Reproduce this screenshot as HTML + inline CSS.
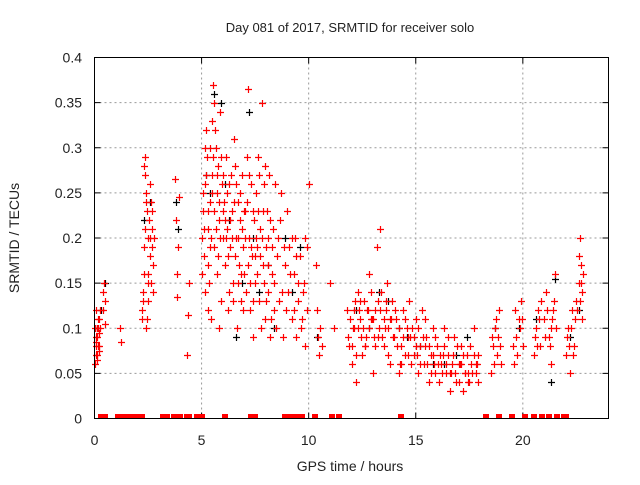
<!DOCTYPE html>
<html><head><meta charset="utf-8"><style>
body{margin:0;background:#fff}
svg text{font-family:"Liberation Sans",sans-serif;fill:#222}
</style></head><body>
<svg id="chart" width="640" height="480" xmlns="http://www.w3.org/2000/svg">
<rect width="640" height="480" fill="#fff"/>
<text x="350" y="32" font-size="13" text-anchor="middle">Day 081 of 2017, SRMTID for receiver solo</text>
<text x="350" y="471" font-size="14" text-anchor="middle">GPS time / hours</text>
<text transform="translate(19,238) rotate(-90)" font-size="14" text-anchor="middle">SRMTID / TECUs</text>
<g id="grid"></g>
<g id="ticks"></g>
<g id="black"></g>
<g id="red"></g>
<g id="zeros"></g>
<rect x="94.5" y="57.5" width="514" height="361" fill="none" stroke="#000" stroke-width="1"/>
</svg>
<script>
const xTicks=[0,5,10,15,20];
const yTicks=[0,0.05,0.1,0.15,0.2,0.25,0.3,0.35,0.4];
const yTickLabels=["0","0.05","0.1","0.15","0.2","0.25","0.3","0.35","0.4"];
const redTimes=[0.05,0.08,0.1,0.12,0.15,0.18,0.2,0.25,0.07,0.22,0.4,0.45,0.5,0.42,0.48,1.2,1.25,
2.2,2.25,2.3,2.3,2.35,2.4,2.4,2.45,2.5,2.5,2.55,2.6,2.6,2.65,2.7,2.7,2.75,2.35,2.45,
3.75,3.8,3.85,3.9,3.95,3.85,4.3,4.35,4.4,
5.0,5.05,5.1,5.15,5.2,5.25,5.3,5.35,5.4,5.45,5.5,5.5,5.55,5.6,5.6,5.65,5.7,5.7,5.75,5.8,5.85,5.9,5.95,6.0,5.3,5.15,5.4,5.8,
6.05,6.1,6.15,6.2,6.25,6.3,6.35,6.4,6.45,6.5,6.55,6.6,6.65,6.7,6.75,6.8,6.85,6.9,6.95,
7.0,7.05,7.1,7.15,7.2,7.25,7.3,7.35,7.4,7.45,7.5,7.55,7.6,7.65,7.7,7.75,7.8,7.85,7.9,7.95,
8.0,8.05,8.1,8.15,8.2,8.3,8.35,8.4,8.5,8.6,8.7,8.8,8.9,
9.0,9.05,9.1,9.2,9.3,9.35,9.4,9.5,9.6,9.7,9.8,9.9,10.0,9.85,
10.35,10.4,10.45,10.5,10.55,10.6,
11.0,11.2,11.8,11.9,12.0,12.1,12.2,12.3,12.4,12.5,12.6,12.7,12.8,12.9,13.0,13.1,13.2,13.3,13.4,13.5,13.6,13.7,13.8,13.9,14.0,
12.15,12.45,12.75,13.05,13.35,13.65,
14.1,14.2,14.3,14.4,14.5,14.6,14.7,14.8,14.9,15.0,15.1,15.2,15.3,15.4,15.5,15.6,15.7,15.8,15.9,
16.0,16.1,16.2,16.3,16.4,16.5,16.6,16.7,16.8,16.9,17.0,17.1,17.2,17.3,17.4,17.5,17.6,17.7,17.8,17.9,
18.5,18.6,18.7,18.8,18.9,19.0,19.6,19.7,19.8,19.9,20.0,
20.5,20.6,20.7,20.8,21.0,21.1,21.2,21.3,21.4,21.5,21.3,
22.0,22.1,22.2,22.3,22.4,22.5,22.6,22.65,22.7,22.8,22.75,
12.05,12.35,12.65,12.95,13.25,13.55,13.85,14.25,14.65,15.05,15.45,15.85,16.25,16.65,17.05,17.45,17.85];
const redValues=[.07,.09,.1,.065,.08,.11,.095,.12,.085,.075,.14,.15,.13,.12,.105,.1,.085,
.12,.14,.16,.28,.27,.1,.24,.23,.2,.13,.22,.18,.26,.15,.19,.23,.17,.29,.11,
.265,.22,.16,.19,.245,.135,.07,.115,.15,
.2,.23,.18,.26,.32,.29,.21,.15,.24,.11,.27,.33,.37,.35,.19,.3,.25,.16,.28,.22,.34,.13,.26,.2,.12,.14,.3,.1,
.24,.17,.29,.21,.12,.26,.19,.23,.15,.31,.28,.2,.1,.24,.17,.22,.13,.27,.19,
.16,.23,.29,.365,.2,.12,.26,.18,.09,.22,.15,.25,.19,.29,.13,.21,.35,.17,.26,.11,
.19,.23,.14,.27,.09,.16,.21,.12,.18,.13,.25,.09,.17,
.23,.14,.19,.11,.16,.2,.09,.13,.18,.11,.15,.19,.26,.08,
.17,.12,.09,.07,.1,.08,
.15,.1,.12,.08,.06,.1,.04,.14,.11,.07,.13,.09,.16,.11,.05,.12,.19,.1,.14,.08,.12,.1,.06,.13,.09,
.13,.09,.12,.09,.21,.15,
.11,.05,.08,.12,.07,.1,.13,.06,.09,.11,.05,.08,.12,.06,.09,.04,.07,.1,.05,
.08,.04,.06,.1,.05,.07,.03,.06,.09,.04,.06,.08,.03,.05,.07,.04,.06,.1,.05,.07,
.05,.08,.1,.07,.12,.06,.06,.09,.11,.13,.08,
.07,.1,.12,.08,.11,.14,.09,.06,.12,.16,.1,
.07,.1,.05,.12,.08,.13,.18,.2,.15,.16,.11,
.1,.12,.08,.11,.09,.1,.11,.06,.09,.07,.08,.06,.07,.05,.06,.05,.06];
const redTimes2=[0.02,0.04,0.06,0.09,0.11,0.13,0.16,0.19,0.21,0.24,
2.22,2.28,2.32,2.38,2.42,2.48,2.52,2.58,2.62,2.68,2.72,2.78,
5.02,5.08,5.12,5.18,5.22,5.28,5.32,5.38,5.42,5.48,5.52,5.58,5.62,5.68,5.72,5.78,5.82,5.88,5.92,5.98,
6.02,6.08,6.12,6.18,6.22,6.28,6.32,6.38,6.42,6.48,6.52,6.58,6.62,6.68,6.72,6.78,6.82,6.88,6.92,6.98,
7.02,7.08,7.12,7.18,7.22,7.28,7.32,7.38,7.42,7.48,7.52,7.58,7.62,7.68,7.72,7.78,7.82,7.88,7.92,7.98,
8.02,8.08,8.12,8.18,8.22,8.28,8.38,8.42,8.48,8.55,8.65,8.75,8.85,8.95,
9.12,9.22,9.32,9.42,9.52,9.62,9.72,9.82,9.92,
11.85,11.95,12.02,12.12,12.22,12.32,12.42,12.52,12.62,12.72,12.82,12.92,13.02,13.12,13.22,13.32,13.42,13.52,13.62,13.72,13.82,13.92,
14.02,14.12,14.22,14.32,14.42,14.52,14.62,14.72,14.82,14.92,15.02,15.12,15.22,15.32,15.42,15.52,15.62,15.72,15.82,15.92,
16.02,16.12,16.22,16.32,16.42,16.52,16.62,16.72,16.82,16.92,17.02,17.12,17.22,17.32,17.42,17.52,17.62,17.72,17.82,17.92,
18.55,18.65,18.75,18.85,18.95,19.55,19.65,19.75,19.85,19.95,
20.55,20.65,20.75,20.85,21.05,21.15,21.25,21.35,21.45,21.55,
22.05,22.15,22.25,22.35,22.45,22.55,22.62,22.68,22.72,22.78];
const redValues2=[.06,.1,.08,.12,.07,.09,.1,.08,.11,.1,
.11,.13,.19,.21,.25,.15,.16,.2,.24,.21,.14,.2,
.16,.25,.21,.3,.27,.17,.23,.19,.2,.25,.29,.23,.32,.21,.27,.18,.24,.2,.29,.23,
.27,.22,.2,.25,.18,.14,.22,.27,.2,.13,.24,.18,.26,.15,.2,.25,.16,.21,.12,.23,
.2,.14,.24,.17,.27,.15,.19,.23,.13,.18,.2,.16,.23,.27,.18,.1,.2,.23,.15,.28,
.13,.2,.17,.22,.11,.19,.15,.26,.1,.2,.22,.14,.19,.12,
.16,.2,.12,.18,.15,.1,.14,.2,.12,
.09,.11,.08,.12,.07,.1,.13,.1,.08,.12,.1,.14,.11,.08,.13,.12,.09,.11,.13,.07,.11,.09,
.12,.08,.1,.06,.09,.11,.07,.09,.1,.07,.08,.1,.06,.09,.11,.06,.08,.05,.07,.09,
.06,.07,.05,.08,.06,.09,.05,.07,.05,.08,.04,.06,.07,.05,.04,.08,.05,.07,.06,.04,
.09,.06,.11,.09,.08,.08,.12,.07,.1,.11,
.09,.08,.11,.13,.09,.12,.08,.11,.13,.1,
.09,.08,.1,.07,.11,.12,.15,.13,.17,.14];
const blackTimes=[0.1,0.3,0.5,2.3,2.6,3.8,3.9,5.2,5.4,5.6,5.9,6.1,6.3,6.6,6.9,7.2,7.4,7.7,8.1,8.4,8.9,9.2,9.6,10.4,12.2,12.8,13.3,13.7,14.2,14.6,15.2,15.8,16.3,16.9,17.4,18.7,19.8,20.6,21.3,21.5,22.2,22.6];
const blackValues=[.1,.12,.15,.22,.24,.24,.21,.27,.25,.36,.35,.26,.22,.09,.15,.34,.2,.14,.17,.1,.2,.14,.19,.09,.12,.1,.14,.13,.1,.09,.08,.06,.06,.07,.09,.1,.1,.11,.04,.155,.09,.12];
const zeroTimes=[0.3,0.5,1.1,1.2,1.4,1.6,1.8,2.0,2.2,3.2,3.4,3.7,3.8,3.9,4.0,4.3,4.4,4.8,5.0,6.1,7.3,7.5,8.9,9.1,9.3,9.5,9.7,10.3,11.1,11.4,14.3,18.3,18.9,19.5,20.1,20.5,20.9,21.2,21.6,21.9,22.0];

const NS="http://www.w3.org/2000/svg";
const X0=94.5,X1=608.5,Y0=418.5,Y1=57.5;
function sx(t){return X0+(t/24)*(X1-X0);}
function sy(v){return Y0-(v/0.4)*(Y0-Y1);}
function mk(tag,attrs,parent){const e=document.createElementNS(NS,tag);for(const k in attrs)e.setAttribute(k,attrs[k]);parent.appendChild(e);return e;}
const grid=document.getElementById('grid'),ticks=document.getElementById('ticks');
xTicks.forEach(t=>{
  const x=sx(t);
  if(t>0){const g=mk('line',{x1:x,x2:x,y1:Y1,y2:Y0,stroke:'#999','stroke-dasharray':'2,3'},grid);
  
  }
  mk('line',{x1:x,x2:x,y1:Y0,y2:Y0-6,stroke:'#000'},ticks);
  mk('line',{x1:x,x2:x,y1:Y1,y2:Y1+6,stroke:'#000'},ticks);
  const l=mk('text',{x:x,y:445,'font-size':14,'text-anchor':'middle'},ticks);l.textContent=t;
  
  
});
yTicks.forEach((v,i)=>{
  const y=sy(v);
  if(v>0&&v<0.4){const g=mk('line',{x1:X0,x2:X1,y1:y,y2:y,stroke:'#999','stroke-dasharray':'2,3'},grid);
  
  }
  mk('line',{x1:X0,x2:X0+6,y1:y,y2:y,stroke:'#000'},ticks);
  mk('line',{x1:X1,x2:X1-6,y1:y,y2:y,stroke:'#000'},ticks);
  const l=mk('text',{x:82,y:y+5,'font-size':14,'text-anchor':'end'},ticks);l.textContent=yTickLabels[i];
  
  
});
function plus(g,t,v,c){
  const x=Math.round(sx(t))+0.5,y=Math.round(sy(v))+0.5;
  const p=mk('path',{d:`M${x-3.5},${y}H${x+3.5}M${x},${y-3.5}V${y+3.5}`,stroke:c,'stroke-width':1.2,fill:'none'},g);
  
  
}
const bg=document.getElementById('black'),rg=document.getElementById('red'),zg=document.getElementById('zeros');
blackTimes.forEach((t,i)=>plus(bg,t,blackValues[i],'#000'));
redTimes.forEach((t,i)=>plus(rg,t,redValues[i],'#ff0000'));
redTimes2.forEach((t,i)=>plus(rg,t,redValues2[i],'#ff0000'));
zeroTimes.forEach(t=>{
  const x=Math.round(sx(t));
  const r=mk('rect',{x:x-3,y:414,width:6,height:5,fill:'#ff0000'},zg);
  
  
});
</script>
</body></html>
